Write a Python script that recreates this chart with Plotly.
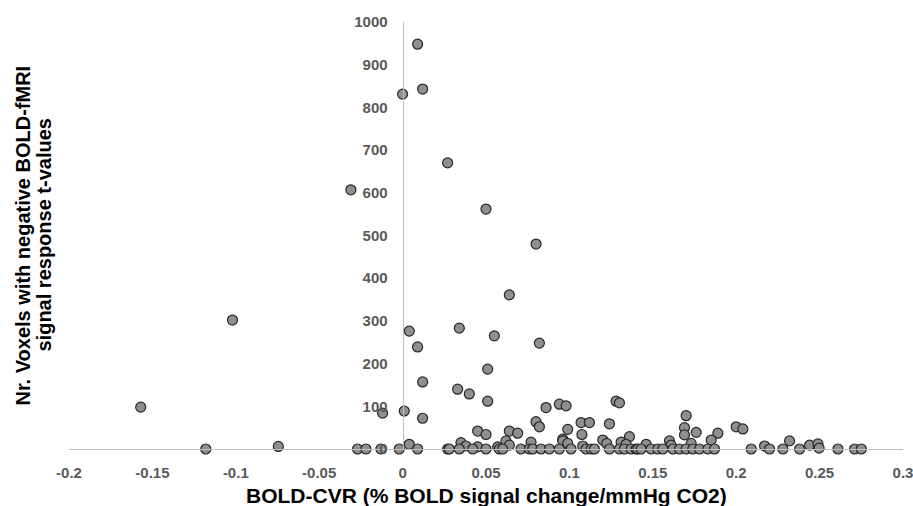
import plotly.graph_objects as go

# BOLD-CVR (x) vs number of voxels with negative t-values (y)
cvr = [
    -0.157, -0.118, -0.102, -0.0745, -0.031,
    0.000, 0.009, 0.012, 0.027, 0.050, 0.080, 0.064,
    0.004, 0.009, 0.034, 0.055, 0.082, 0.051, 0.012, 0.033, 0.040, 0.051,
    -0.012, 0.001, 0.012, 0.086, 0.094, 0.098, 0.128, 0.130,
    0.045, 0.050, 0.080, 0.082, 0.064, 0.069, 0.099, 0.107, 0.112, 0.124,
    0.1075, 0.096, 0.077, 0.062, 0.120, 0.136, 0.131, 0.035, 0.004, 0.038,
    0.045, 0.057, 0.064, 0.096, 0.099, 0.108, 0.1224, 0.134,
    0.170, 0.169, 0.169, 0.176, 0.189, 0.185, 0.200, 0.204, 0.160, 0.161,
    0.146, 0.173, 0.232, 0.217, 0.244, 0.249, 0.2497,
    -0.027, -0.022, -0.013, -0.002, 0.009, 0.027, 0.028, 0.034, 0.042, 0.050,
    0.058, 0.060, 0.071, 0.076, 0.078, 0.083, 0.088, 0.094, 0.101, 0.110,
    0.113, 0.115, 0.124, 0.130, 0.133, 0.137, 0.140, 0.141, 0.143, 0.149,
    0.153, 0.156, 0.162, 0.166, 0.170, 0.174, 0.178, 0.183, 0.187, 0.209,
    0.220, 0.228, 0.238, 0.261, 0.271, 0.275,
]
voxels = [
    98, 0, 302, 6, 607,
    831, 948, 843, 670, 562, 480, 361,
    276, 239, 283, 265, 248, 187, 157, 140, 129, 112,
    84, 89, 72, 97, 105, 101, 112, 108,
    42, 34, 64, 52, 42, 37, 46, 62, 62, 59,
    34, 23, 16, 19, 21, 29, 16, 15, 11, 7,
    5, 5, 9, 19, 13, 7, 13, 11,
    78, 50, 33, 39, 37, 21, 52, 47, 19, 9,
    11, 13, 19, 7, 9, 12, 2,
    0, 0, 0, 0, 0, 0, 0, 0, 0, 0,
    0, 0, 0, 0, 0, 0, 0, 0, 0, 0,
    0, 0, 0, 0, 0, 0, 0, 0, 0, 0,
    0, 0, 0, 0, 0, 0, 0, 0, 0, 0,
    0, 0, 0, 0, 0, 0,
]

x_tick_vals = [-0.2, -0.15, -0.1, -0.05, 0, 0.05, 0.1, 0.15, 0.2, 0.25, 0.3]
x_tick_text = ["-0.2", "-0.15", "-0.1", "-0.05", "0", "0.05", "0.1", "0.15", "0.2", "0.25", "0.3"]
y_tick_vals = [0, 100, 200, 300, 400, 500, 600, 700, 800, 900, 1000]
y_tick_text = ["0", "100", "200", "300", "400", "500", "600", "700", "800", "900", "1000"]

x_title = "BOLD-CVR (% BOLD signal change/mmHg CO2)"
y_title_lines = ["Nr. Voxels with negative BOLD-fMRI", "signal response t-values"]

x_min, x_max = -0.2, 0.3
y_min, y_max = 0, 1000

FONT = "Liberation Sans, Arial, sans-serif"
TICK_COLOR = "#595959"
AXIS_COLOR = "#bfbfbf"

fig = go.Figure()
fig.add_trace(go.Scatter(
    x=cvr, y=voxels, mode="markers", cliponaxis=False,
    marker=dict(size=10, color="#8f8f8f", line=dict(color="#262626", width=1.2)),
    showlegend=False, hoverinfo="x+y",
))

fig.update_layout(
    width=913, height=506,
    margin=dict(l=69, r=10, t=22, b=57),
    paper_bgcolor="white", plot_bgcolor="white",
    font=dict(family=FONT),
    xaxis=dict(
        range=[x_min, x_max + 1e-9], tickvals=x_tick_vals, ticktext=x_tick_text,
        showgrid=False, zeroline=False, showline=True, linecolor=AXIS_COLOR, linewidth=1,
        ticks="", ticklabelstandoff=10, ticklabeloverflow="allow", automargin=False,
        tickfont=dict(family=FONT, size=15, color=TICK_COLOR, weight="bold"),
    ),
    yaxis=dict(
        range=[y_min, y_max], tickvals=y_tick_vals, ticktext=y_tick_text,
        anchor="free", position=(0 - x_min) / (x_max - x_min), automargin=False,
        showgrid=False, zeroline=False, showline=True, linecolor=AXIS_COLOR, linewidth=1,
        ticks="", ticklabelstandoff=12,
        tickfont=dict(family=FONT, size=15, color=TICK_COLOR, weight="bold"),
    ),
)

fig.add_annotation(
    text=x_title, xref="paper", yref="paper", x=0.5, y=0,
    xanchor="center", yanchor="middle", yshift=-46, showarrow=False,
    font=dict(family=FONT, size=21, color="#000000", weight="bold"),
)
for i, line in enumerate(y_title_lines):
    fig.add_annotation(
        text=line, xref="paper", yref="paper", x=0, y=0.5,
        xanchor="center", yanchor="middle", xshift=-47 + 21 * i, textangle=-90,
        showarrow=False,
        font=dict(family=FONT, size=20, color="#000000", weight="bold"),
    )

fig.write_html(
    "out.html",
    config={"displayModeBar": False},
    post_script="document.body.style.margin='0';document.body.style.overflow='hidden';",
)
